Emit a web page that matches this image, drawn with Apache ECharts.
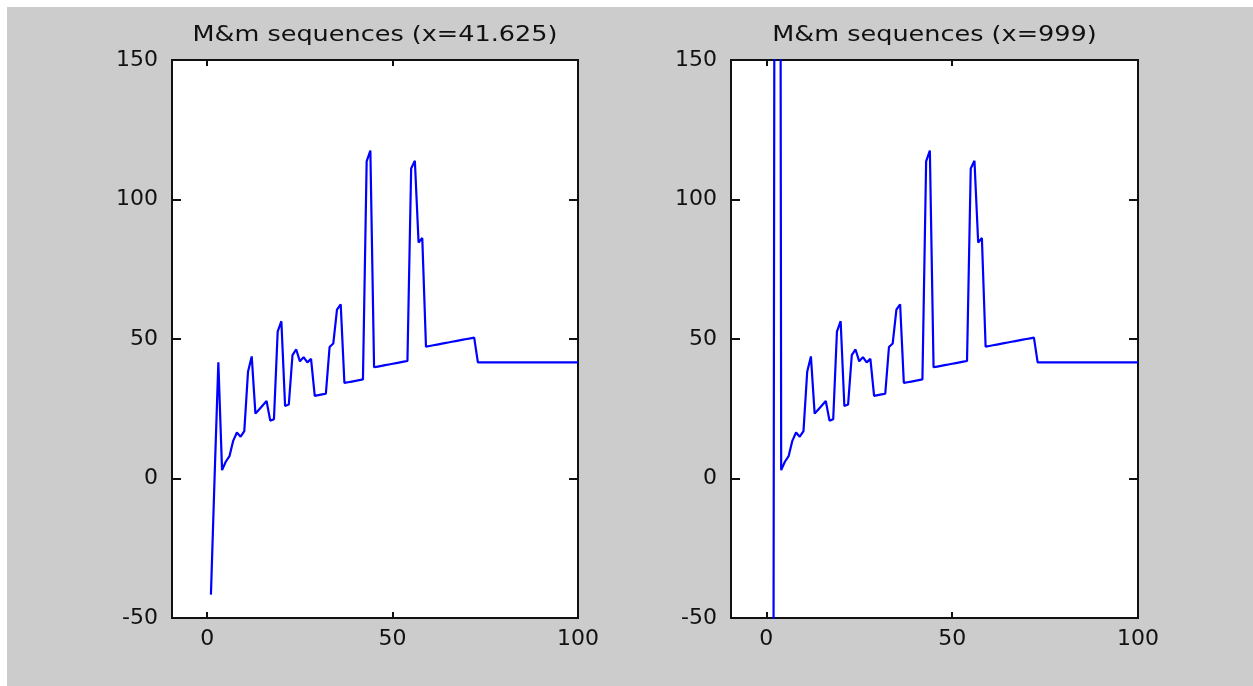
<!DOCTYPE html>
<html>
<head>
<meta charset="utf-8">
<script src="https://cdn.jsdelivr.net/npm/echarts@6/dist/echarts.min.js"></script>
<style>
html,body{margin:0;padding:0;background:#ffffff;}
#chart{position:absolute;left:0;top:0;width:1253px;height:686px;}
</style>
</head>
<body>
<div id="chart"></div>
<script>
// ---- data ----
const titles = ['M&m sequences (x=41.625)', 'M&m sequences (x=999)'];
const xTicks = [0, 50, 100];
const yTicks = [-50, 0, 50, 100, 150];
// first three terms of each sequence
const headLeft = [-41.625, 1, 41.625];
const headRight = [-999, 1, 999];
// terms 4..100 (identical in both panels)
const tail = [
  3, 6, 8, 13.5, 16.5, 15, 17, 38.25, 43.75, 23.25,
  24.75, 26.25, 27.75, 20.75, 21.25, 52.625, 56.375, 26, 26.5, 44.25,
  46.25, 42, 43.5, 41.625, 42.875, 29.625, 29.875, 30.125, 30.375, 47.125,
  48.375, 60.5625, 62.4375, 34.25, 34.5, 34.75, 35, 35.25, 35.5, 113.6875,
  117.5625, 39.875, 40.125, 40.375, 40.625, 40.875, 41.125, 41.375, 41.625, 41.875,
  42.125, 111.125, 113.875, 84.5625, 86.1875, 47.25, 47.5, 47.75, 48, 48.25,
  48.5, 48.75, 49, 49.25, 49.5, 49.75, 50, 50.25, 50.5, 41.625,
  41.625, 41.625, 41.625, 41.625, 41.625, 41.625, 41.625, 41.625, 41.625, 41.625,
  41.625, 41.625, 41.625, 41.625, 41.625, 41.625, 41.625, 41.625, 41.625, 41.625,
  41.625, 41.625, 41.625, 41.625, 41.625, 41.625, 41.625
];

const seqLeft = headLeft.concat(tail);
const seqRight = headRight.concat(tail);
const toPairs = s => s.map((v, i) => [i + 1, v]);

const FONT = 'DejaVu Sans';
const AXC = '#111111';
const X_MIN = -9.5, X_MAX = 100, Y_MIN = -50, Y_MAX = 150;
const grids = [
  {left: 172, top: 60, width: 406, height: 558},
  {left: 731, top: 60, width: 407, height: 558}
];

function xAx(gi, pos, labels) {
  return {
    type: 'value', gridIndex: gi, position: pos, min: X_MIN, max: X_MAX,
    splitLine: {show: false},
    axisLine: {show: true, onZero: false, lineStyle: {color: AXC, width: 2}},
    axisTick: {show: true, inside: true, length: 6, customValues: xTicks, lineStyle: {color: AXC, width: 2}},
    axisLabel: {show: labels, customValues: xTicks, color: '#111', fontFamily: FONT, fontSize: 22, margin: 10}
  };
}
function yAx(gi, pos, labels) {
  return {
    type: 'value', gridIndex: gi, position: pos, min: Y_MIN, max: Y_MAX, interval: 50,
    splitLine: {show: false},
    axisLine: {show: true, onZero: false, lineStyle: {color: AXC, width: 2}},
    axisTick: {show: true, inside: true, length: 9, customValues: yTicks, lineStyle: {color: AXC, width: 2}},
    axisLabel: {show: labels, customValues: yTicks, color: '#111', fontFamily: FONT, fontSize: 22, margin: 14}
  };
}

const titleGraphics = titles.map((t, i) => ({
  type: 'text',
  x: grids[i].left + grids[i].width / 2,
  y: 35,
  scaleX: 1.16,
  z: 10,
  style: {text: t, fill: '#111', font: '22px "DejaVu Sans"', textAlign: 'center', textVerticalAlign: 'middle'}
}));

const chart = echarts.init(document.getElementById('chart'), null, {renderer: 'canvas'});
chart.setOption({
  animation: false,
  backgroundColor: '#ffffff',
  graphic: [{type: 'rect', z: -10, shape: {x: 7, y: 7, width: 1246, height: 679}, style: {fill: '#cccccc'}}].concat(titleGraphics),
  grid: grids.map(g => Object.assign({show: true, backgroundColor: '#ffffff', borderWidth: 0, containLabel: false}, g)),
  xAxis: [xAx(0, 'bottom', true), xAx(0, 'top', false), xAx(1, 'bottom', true), xAx(1, 'top', false)],
  yAxis: [yAx(0, 'left', true), yAx(0, 'right', false), yAx(1, 'left', true), yAx(1, 'right', false)],
  series: [
    {type: 'line', xAxisIndex: 0, yAxisIndex: 0, data: toPairs(seqLeft), symbol: 'none', clip: true,
     lineStyle: {color: '#0000ff', width: 2.2}},
    {type: 'line', xAxisIndex: 2, yAxisIndex: 2, data: toPairs(seqRight), symbol: 'none', clip: true,
     lineStyle: {color: '#0000ff', width: 2.2}}
  ]
});
</script>
</body>
</html>
